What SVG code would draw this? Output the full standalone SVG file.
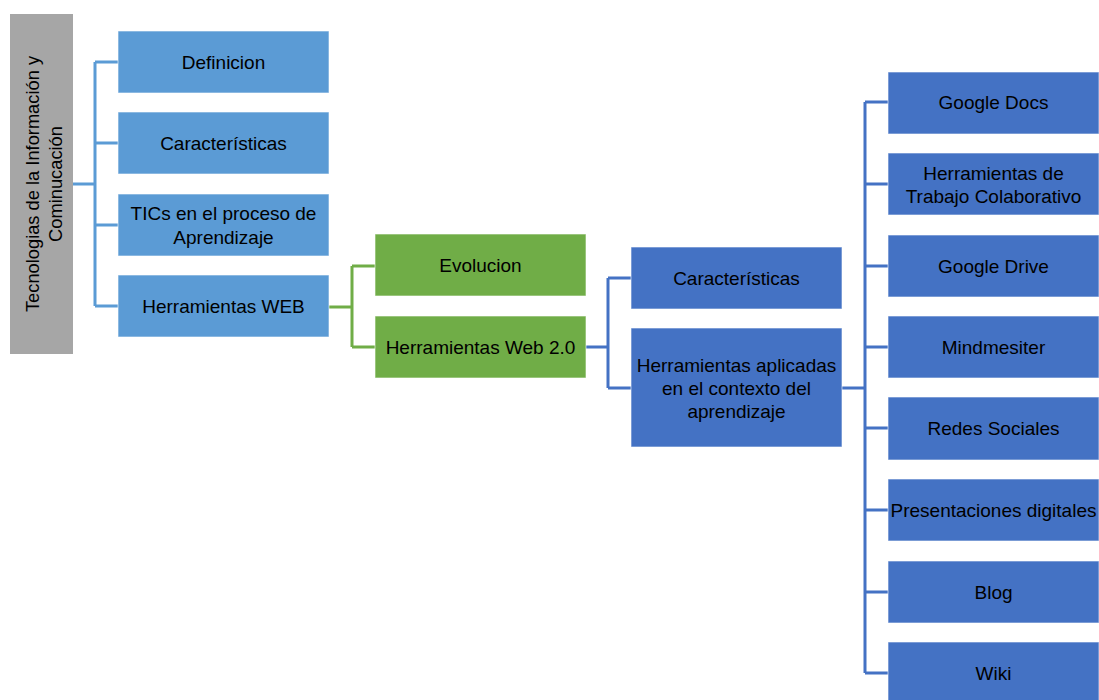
<svg xmlns="http://www.w3.org/2000/svg" width="1099" height="700" viewBox="0 0 1099 700">
<style>
text{font-family:"Liberation Sans",Arial,sans-serif;font-size:19px;fill:#000;text-anchor:middle;dominant-baseline:central}
.rt{font-size:18.3px}
.b1{fill:#5b9bd5;stroke:#ffffff;stroke-opacity:0.6;stroke-width:1}
.b2{fill:#4472c4;stroke:#ffffff;stroke-opacity:0.6;stroke-width:1}
.g{fill:#70ad47;stroke:#ffffff;stroke-opacity:0.6;stroke-width:1}
.gr{fill:#a6a6a6}
.c1{fill:none;stroke:#5b9bd5;stroke-width:3}
.c2{fill:none;stroke:#70ad47;stroke-width:3}
.c3{fill:none;stroke:#4472c4;stroke-width:3}
</style>
<rect width="1099" height="700" fill="#fff"/>
<g id="connectors">
<path class="c1" d="M73 184H95M95 62V306M95 62H118M95 143H118M95 225H118M95 306H118"/>
<path class="c2" d="M329 307H352M352 266V347M352 266H375M352 347H375"/>
<path class="c3" d="M585 347H608M608 278V388M608 278H631M608 388H631"/>
<path class="c3" d="M842 388H865M865 102V673M865 102H888M865 184H888M865 266H888M865 347H888M865 428H888M865 510H888M865 592H888M865 673H888"/>
</g>
<g id="root"><rect class="gr" x="10" y="14" width="63" height="340"/>
<text class="rt" transform="translate(32,184) rotate(-90)">Tecnologias de la Información y</text>
<text class="rt" transform="translate(55,184) rotate(-90)">Cominucación</text></g>
<g id="definicion"><rect class="b1" x="118" y="31" width="211" height="62"/><text x="223.5" y="62">Definicion</text></g>
<g id="caracteristicas1"><rect class="b1" x="118" y="112" width="211" height="62"/><text x="223.5" y="143">Características</text></g>
<g id="tics"><rect class="b1" x="118" y="194" width="211" height="62"/><text x="223.5" y="213">TICs en el proceso de</text><text x="223.5" y="237">Aprendizaje</text></g>
<g id="herramientasweb"><rect class="b1" x="118" y="275" width="211" height="62"/><text x="223.5" y="306">Herramientas WEB</text></g>
<g id="evolucion"><rect class="g" x="375" y="234" width="211" height="62"/><text x="480.5" y="265">Evolucion</text></g>
<g id="web20"><rect class="g" x="375" y="316" width="211" height="62"/><text x="480.5" y="347">Herramientas Web 2.0</text></g>
<g id="caracteristicas2"><rect class="b2" x="631" y="247" width="211" height="62"/><text x="736.5" y="278">Características</text></g>
<g id="aplicadas"><rect class="b2" x="631" y="328" width="211" height="119"/><text x="736.5" y="365">Herramientas aplicadas</text><text x="736.5" y="388">en el contexto del</text><text x="736.5" y="411">aprendizaje</text></g>
<g id="googledocs"><rect class="b2" x="888" y="72" width="211" height="62"/><text x="993.5" y="102">Google Docs</text></g>
<g id="trabajo"><rect class="b2" x="888" y="153" width="211" height="62"/><text x="993.5" y="173">Herramientas de</text><text x="993.5" y="196">Trabajo Colaborativo</text></g>
<g id="googledrive"><rect class="b2" x="888" y="235" width="211" height="62"/><text x="993.5" y="266">Google Drive</text></g>
<g id="mindmesiter"><rect class="b2" x="888" y="316" width="211" height="62"/><text x="993.5" y="347">Mindmesiter</text></g>
<g id="redes"><rect class="b2" x="888" y="397" width="211" height="63"/><text x="993.5" y="428">Redes Sociales</text></g>
<g id="presentaciones"><rect class="b2" x="888" y="479" width="211" height="62"/><text x="993.5" y="510">Presentaciones digitales</text></g>
<g id="blog"><rect class="b2" x="888" y="561" width="211" height="62"/><text x="993.5" y="592">Blog</text></g>
<g id="wiki"><rect class="b2" x="888" y="642" width="211" height="62"/><text x="993.5" y="673">Wiki</text></g>
</svg>
